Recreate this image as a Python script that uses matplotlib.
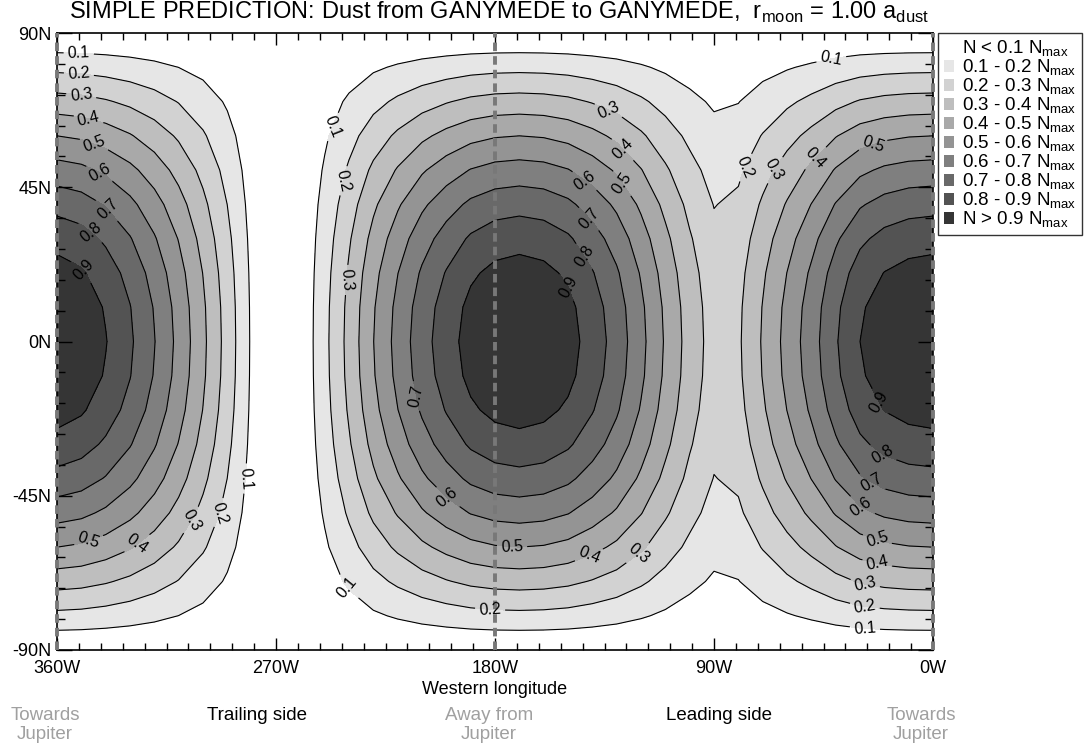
import numpy as np
import matplotlib.pyplot as plt
from matplotlib.patches import Patch

plt.rcParams['font.family'] = ['Liberation Sans', 'DejaVu Sans']
plt.rcParams['mathtext.fontset'] = 'custom'
plt.rcParams['mathtext.rm'] = 'Liberation Sans'

# Dust density along the equator (fraction of N_max), western longitude 0..360 every 10 deg
lon_w = np.arange(0, 361, 10)
eq_density = [1.00, 0.99, 0.96, 0.90, 0.79, 0.655, 0.533, 0.41, 0.285, 0.257,
              0.358, 0.489, 0.629, 0.758, 0.858, 0.94, 0.985, 1.00, 0.985, 0.94,
              0.858, 0.759, 0.636, 0.498, 0.333, 0.172, 0.02, 0.0, 0.086, 0.26,
              0.423, 0.572, 0.704, 0.816, 0.905, 0.97, 1.00]

# Relative fall-off with latitude, -90..90 every 10 deg
lat = np.arange(-90, 91, 10)
lat_profile = [0.0, 0.174, 0.342, 0.5, 0.643, 0.766, 0.866, 0.94, 0.985, 1.0,
               0.985, 0.94, 0.866, 0.766, 0.643, 0.5, 0.342, 0.174, 0.0]

levels = [0.0, 0.1, 0.2, 0.3, 0.4, 0.5, 0.6, 0.7, 0.8, 0.9, 1.05]
grays = ['#ffffff', '#e6e6e6', '#d2d2d2', '#bebebe', '#a9a9a9',
         '#949494', '#7f7f7f', '#696969', '#535353', '#353535']
legend_labels = ['N < 0.1 N$_\\mathregular{max}$'] + \
    ['%.1f - %.1f N$_\\mathregular{max}$' % (levels[i], levels[i + 1]) for i in range(1, 9)] + \
    ['N > 0.9 N$_\\mathregular{max}$']

density = np.outer(lat_profile, eq_density)

W, H = 1087, 747
fig = plt.figure(figsize=(W / 100, H / 100), dpi=100)
ax = fig.add_axes([57 / W, 1 - 650 / H, 876 / W, 617 / H])

ax.contourf(lon_w, lat, density, levels=levels, colors=grays)
cs = ax.contour(lon_w, lat, density, levels=levels[1:10], colors='black', linewidths=0.8)

# where the contour labels go (lon W, lat)
label_spots = [
    (351, 86), (351, 78), (350, 72), (347, 65), (344, 59), (341, 51), (340, 38), (346, 32), (349, 21),
    (282, -40), (293, -50), (305, -52), (327, -59), (347, -58),
    (248, 63), (243, 47), (242, 18), (213, -16), (200, -46), (173, -60), (182, -78), (241, -72),
    (141, -63), (121, -62),
    (133, 68), (129, 55), (143, 47), (128, 46), (141, 36), (143, 25), (150, 16),
    (42, 83), (75, 50), (65, 50), (49, 54), (25, 58),
    (23, -18), (22, -34), (25, -41), (30, -49), (23, -58), (23, -65), (28, -71), (28, -77), (28, -84),
]
ax.clabel(cs, fmt='%.1f', fontsize=11.5, inline=True, inline_spacing=4, manual=label_spots)

# sub-Jovian and anti-Jovian meridians
for x in (360, 180, 0):
    ax.axvline(x, color='#787878', lw=2.8, ls=(0, (2.2, 1.3)), zorder=3, clip_on=False)

ax.set_xlim(360, 0)
ax.set_ylim(-90, 90)
ax.set_xticks([360, 270, 180, 90, 0], ['360W', '270W', '180W', '90W', '0W'])
ax.set_xticks(np.arange(0, 361, 9), minor=True)
ax.set_yticks([-90, -45, 0, 45, 90], ['-90N', '-45N', '0N', '45N', '90N'])
ax.set_yticks(np.arange(-90, 91, 9), minor=True)
ax.tick_params(which='both', direction='in', top=True, right=True, labelsize=13, width=1)
ax.tick_params(axis='x', which='major', length=8.5, pad=7)
ax.tick_params(axis='x', which='minor', length=5)
ax.tick_params(axis='y', which='major', length=11, pad=4)
ax.tick_params(axis='y', which='minor', length=6)
for s in ax.spines.values():
    s.set_linewidth(1.2)

fig.text(499 / W, 1 - 12 / H,
         'SIMPLE PREDICTION: Dust from GANYMEDE to GANYMEDE,  r$_\\mathregular{moon}$ = 1.00 a$_\\mathregular{dust}$',
         ha='center', va='center', fontsize=17)
fig.text(495 / W, 1 - 689 / H, 'Western longitude', ha='center', va='center', fontsize=13)

notes = [(45, 'Towards\nJupiter', '#a0a0a0'), (257, 'Trailing side', 'black'),
         (489, 'Away from\nJupiter', '#a0a0a0'), (719, 'Leading side', 'black'),
         (921, 'Towards\nJupiter', '#a0a0a0')]
for px, txt, col in notes:
    fig.text(px / W, 1 - 707 / H, txt, ha='center', va='top', fontsize=13.5,
             color=col, linespacing=1.15)

handles = [Patch(facecolor=c, edgecolor='none') for c in grays]
leg = fig.legend(handles, legend_labels, loc='upper left',
                 bbox_to_anchor=(938 / W, 1 - 33 / H), frameon=True, fancybox=False,
                 edgecolor='black', fontsize=13.5, handlelength=0.55, handleheight=0.55,
                 handletextpad=0.45, labelspacing=-0.07, borderpad=0.3, borderaxespad=0)
leg.get_frame().set_linewidth(1.0)

fig.savefig('out.png', dpi=100)
